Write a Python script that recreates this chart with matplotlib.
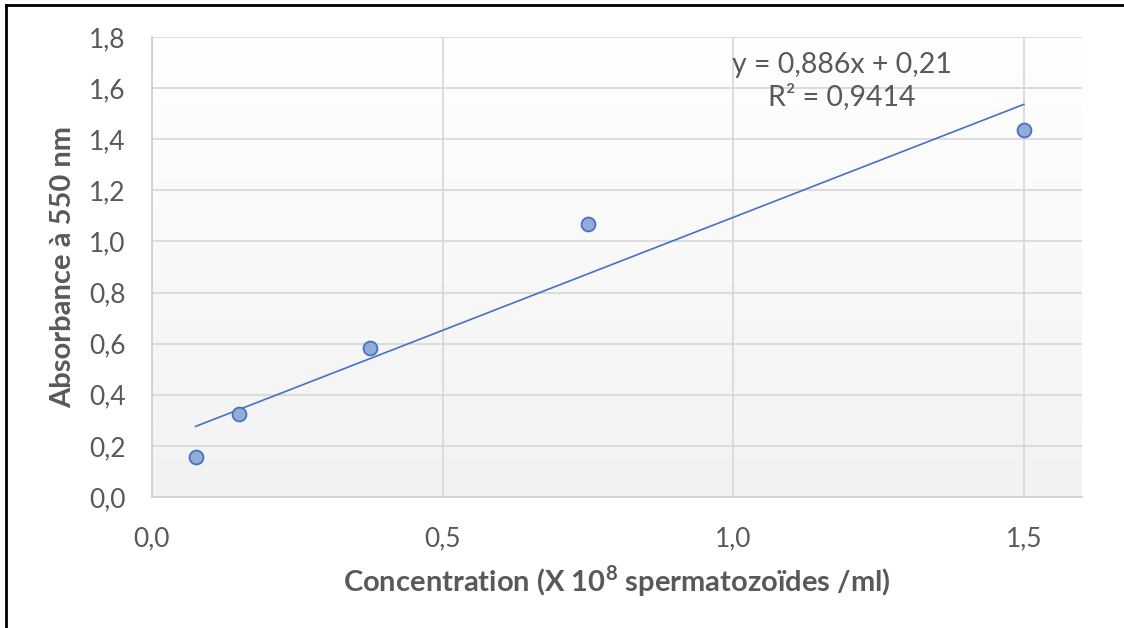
import numpy as np
import matplotlib
matplotlib.use("Agg")
import matplotlib.pyplot as plt
from matplotlib.lines import Line2D
from matplotlib.colors import LinearSegmentedColormap

concentration = [0.075, 0.15, 0.375, 0.75, 1.5]
absorbance = [0.155, 0.325, 0.585, 1.07, 1.435]
x_ticks = [0.0, 0.5, 1.0, 1.5]
x_tick_labels = ["0,0", "0,5", "1,0", "1,5"]
y_ticks = [0.0, 0.2, 0.4, 0.6, 0.8, 1.0, 1.2, 1.4, 1.6, 1.8]
y_tick_labels = ["0,0", "0,2", "0,4", "0,6", "0,8", "1,0", "1,2", "1,4", "1,6", "1,8"]
equation_text = "y = 0,886x + 0,21\nR² = 0,9414"

plt.rcParams['font.family'] = ['Lato', 'DejaVu Sans']
plt.rcParams['mathtext.fontset'] = 'custom'
plt.rcParams['mathtext.bf'] = 'Lato:bold'
plt.rcParams['mathtext.rm'] = 'Lato'
txt = '#595959'

fig = plt.figure(figsize=(11.24, 6.28), dpi=100)
ax = fig.add_axes([152/1124, 1-497/628, (1082-152)/1124, (497-37)/628])

grad = np.linspace(0, 1, 256).reshape(-1, 1)
cmap = LinearSegmentedColormap.from_list('bg', ['#ffffff', '#f2f2f2'])
ax.imshow(grad, extent=[0, 1, 0, 1], transform=ax.transAxes, cmap=cmap,
          aspect='auto', zorder=0, origin='upper')

ax.set_xlim(0, 1.6)
ax.set_ylim(0, 1.8)
ax.set_xticks(x_ticks)
ax.set_xticklabels(x_tick_labels)
ax.set_yticks(y_ticks)
ax.set_yticklabels(y_tick_labels)
ax.grid(True, color='#d9d9d9', linewidth=1.3, zorder=1)
ax.set_axisbelow(True)
for s in ['top', 'right']:
    ax.spines[s].set_visible(False)
for s in ['left', 'bottom']:
    ax.spines[s].set_color('#d0d0d0')
    ax.spines[s].set_linewidth(1.3)
ax.tick_params(length=0, labelsize=19, colors=txt)
ax.tick_params(axis='y', pad=19)
ax.tick_params(axis='x', pad=21)

coef = np.polyfit(concentration, absorbance, 1)
xs = np.array([min(concentration), max(concentration)])
ax.plot(xs, np.polyval(coef, xs), color='#4472c4', linewidth=1.2, zorder=3)

ax.plot(concentration, absorbance, 'o', markersize=10, markerfacecolor='#94abd6',
        markeredgecolor='#4472c4', markeredgewidth=1.3, zorder=4, clip_on=False)

ax.text(1.187, 1.628, equation_text, ha='center', va='center', fontsize=20.5,
        color=txt, linespacing=1.2, zorder=5)

ax.set_xlabel(r"Concentration (X 10$^{\mathbf{8}}$ spermatozoïdes /ml)", fontsize=21,
              fontweight='bold', color=txt, labelpad=9)
ax.set_ylabel("Absorbance à 550 nm", fontsize=21, fontweight='bold', color=txt,
              labelpad=9)

fig.add_artist(Line2D([6/1124, 6/1124], [0, 1-5/628], transform=fig.transFigure,
                      color='black', linewidth=2))
fig.add_artist(Line2D([6/1124, 1], [1-5/628, 1-5/628], transform=fig.transFigure,
                      color='black', linewidth=2))

fig.savefig('out.png', dpi=100)
